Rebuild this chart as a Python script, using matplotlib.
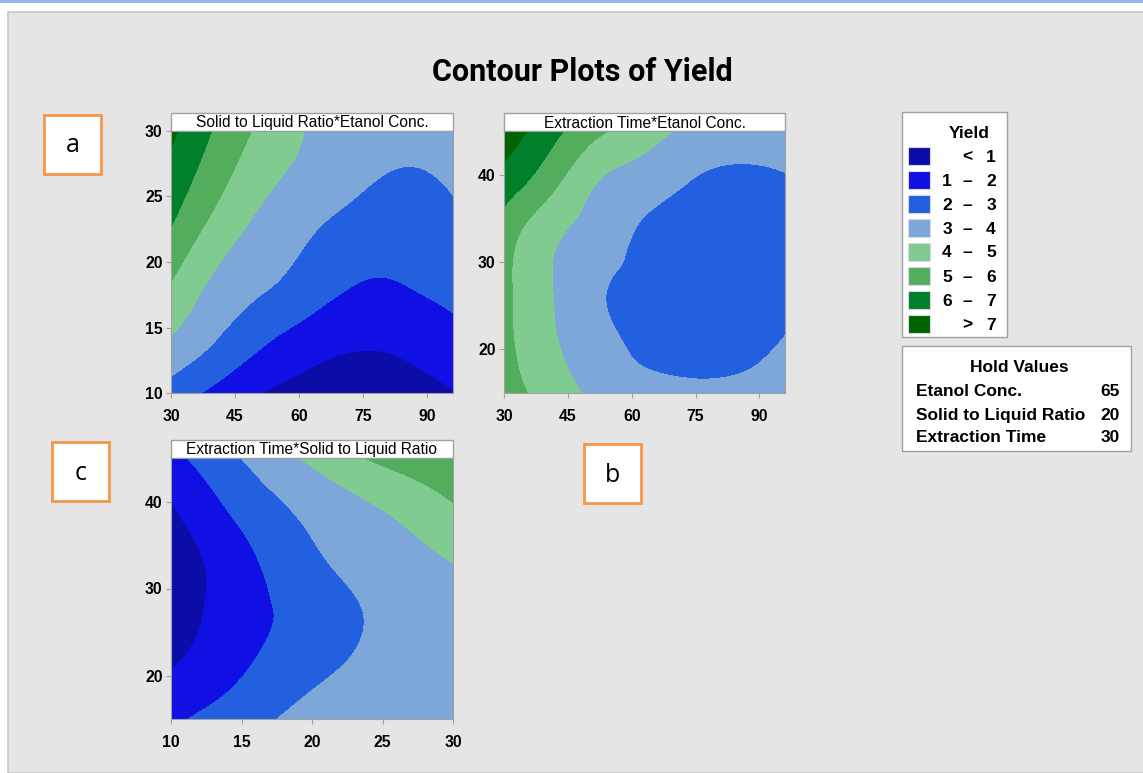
import numpy as np
import matplotlib
matplotlib.use("Agg")
import matplotlib.pyplot as plt
from matplotlib.patches import Rectangle
from matplotlib.lines import Line2D
from matplotlib.tri import Triangulation, UniformTriRefiner

# yield values (rows = y values, cols = x values)
etanol = [30, 41, 52, 63, 74, 85, 96]
ratio = [10, 14, 18, 22, 26, 30]
yield_a = [
    [2.5, 1.7, 0.95, 0.62, 0.5, 0.6, 0.95],
    [3.9, 2.95, 2.1, 1.46, 1.15, 1.27, 1.67],
    [4.88, 3.69, 3.05, 2.44, 1.93, 1.97, 2.24],
    [5.85, 4.46, 3.6, 3.0, 2.51, 2.42, 2.67],
    [6.6, 5.24, 4.18, 3.6, 3.13, 2.83, 3.1],
    [7.2, 5.82, 4.71, 3.9, 3.55, 3.35, 3.5],
]

time_b = [15, 21, 27, 33, 39, 45]
yield_b = [
    [5.4, 4.58, 3.75, 3.4, 3.25, 3.25, 3.4],
    [5.25, 4.15, 3.33, 2.75, 2.5, 2.6, 3.05],
    [5.2, 4.05, 3.12, 2.7, 2.35, 2.25, 2.5],
    [5.45, 4.2, 3.5, 2.82, 2.45, 2.3, 2.45],
    [6.55, 5.27, 3.98, 3.48, 2.95, 2.75, 2.9],
    [7.6, 6.35, 5.2, 4.38, 3.8, 3.45, 3.35],
]

ratio_c = [10, 13, 16, 20, 24, 27, 30]
time_c = [15, 21, 27, 33, 39, 45]
yield_c = [
    [1.8, 2.29, 2.76, 3.3, 3.45, 3.58, 3.7],
    [0.97, 1.46, 2.08, 2.75, 3.2, 3.45, 3.65],
    [0.55, 1.15, 1.77, 2.45, 3.05, 3.4, 3.65],
    [0.55, 1.15, 1.93, 2.82, 3.35, 3.7, 4.0],
    [0.88, 1.72, 2.5, 3.25, 3.85, 4.3, 4.85],
    [1.7, 2.5, 3.25, 4.2, 5.05, 5.5, 5.95],
]

levels = [-50, 1, 2, 3, 4, 5, 6, 7, 50]
level_labels = [("", "<", "1"), ("1", "\u2013", "2"), ("2", "\u2013", "3"), ("3", "\u2013", "4"),
                ("4", "\u2013", "5"), ("5", "\u2013", "6"), ("6", "\u2013", "7"), ("", ">", "7")]
colors = ["#0C0CA8", "#1010E4", "#2360E0", "#7CA7D8", "#80CC90", "#52AE5C", "#00802A", "#006400"]

hold_names = ["Etanol Conc.", "Solid to Liquid Ratio", "Extraction Time"]
hold_vals = ["65", "20", "30"]

W, H = 1143, 773
fig = plt.figure(figsize=(W / 100, H / 100), dpi=100)
fig.patch.set_facecolor("white")

def fx(px):
    return px / W

def fy(py):
    return 1 - py / H

# grey background panel and top blue line
fig.patches.append(Rectangle((fx(8), 0), 1, fy(12), transform=fig.transFigure,
                             fc="#E5E5E5", ec="#C8C8C8", lw=1.2, zorder=-5))
fig.lines.append(Line2D([0, 1], [fy(1), fy(1)], transform=fig.transFigure,
                        color="#8DB4E2", lw=2, zorder=-4))

tick_font = dict(family=["Liberation Sans", "DejaVu Sans"], weight="bold", size=11.3)
edge = "#A0A0A0"


def panel(rect, xs, ys, z, xlim, ylim, xticks, yticks, title):
    ax = fig.add_axes(rect)
    ax.set_zorder(2)
    X, Y = np.meshgrid(xs, ys)
    tri = Triangulation(X.ravel(), Y.ravel())
    refiner = UniformTriRefiner(tri)
    tri_f, z_f = refiner.refine_field(np.asarray(z, dtype=float).ravel(), subdiv=4)
    ax.tricontourf(tri_f, z_f, levels=levels, colors=colors, zorder=3)
    ax.set_xlim(xlim)
    ax.set_ylim(ylim)
    ax.set_xticks(xticks)
    ax.set_yticks(yticks)
    ax.set_xticklabels([str(t) for t in xticks], fontdict=tick_font)
    ax.set_yticklabels([str(t) for t in yticks], fontdict=tick_font)
    ax.tick_params(direction="out", length=3.5, color=edge)
    ax.tick_params(axis="x", pad=8)
    ax.tick_params(axis="y", pad=2.5)
    for s in ax.spines.values():
        s.set_color(edge)
        s.set_zorder(4)
    h = 18 / (rect[3] * H)
    ax.add_patch(Rectangle((0, 1), 1, h, transform=ax.transAxes, clip_on=False,
                           fc="white", ec=edge, lw=1, zorder=1))
    ax.text(0.5, 1.0 + 3.5 / (rect[3] * H), title, transform=ax.transAxes, ha="center",
            va="baseline", fontsize=11.2, family=["Liberation Sans", "DejaVu Sans"],
            clip_on=False, zorder=2)
    return ax


panel([fx(171), fy(393), fx(282), 262 / H], etanol, ratio, yield_a,
      (30, 96), (10, 30), [30, 45, 60, 75, 90], [10, 15, 20, 25, 30],
      "Solid to Liquid Ratio*Etanol Conc.")
panel([fx(504), fy(393), fx(281), 262 / H], etanol, time_b, yield_b,
      (30, 96), (15, 45), [30, 45, 60, 75, 90], [20, 30, 40],
      "Extraction Time*Etanol Conc.")
panel([fx(171), fy(719), fx(282), 261 / H], ratio_c, time_c, yield_c,
      (10, 30), (15, 45), [10, 15, 20, 25, 30], [20, 30, 40],
      "Extraction Time*Solid to Liquid Ratio")

fig.text(fx(582), fy(72), "Contour Plots of Yield", ha="center", va="center",
         fontsize=22, weight="bold", stretch="condensed",
         family=["DejaVu Sans Condensed", "Liberation Sans Narrow", "Roboto", "DejaVu Sans"])

# legend box
fig.patches.append(Rectangle((fx(902), fy(337)), fx(105), 225 / H, transform=fig.transFigure,
                             fc="white", ec=edge, lw=1))
lab_font = dict(family=["Liberation Sans", "DejaVu Sans"], weight="bold", fontsize=12.5)
fig.text(fx(969), fy(133), "Yield", ha="center", va="center", **lab_font)
for i, (c, lab) in enumerate(zip(colors, level_labels)):
    yc = 156 + 24 * i
    fig.patches.append(Rectangle((fx(908), fy(yc + 9)), fx(22), 18 / H, transform=fig.transFigure,
                                 fc=c, ec="#D8D8E8", lw=0.8))
    fig.text(fx(947), fy(yc + 1), lab[0], ha="center", va="center", **lab_font)
    fig.text(fx(967), fy(yc + 1), lab[1], ha="center", va="center", **lab_font)
    fig.text(fx(991), fy(yc + 1), lab[2], ha="center", va="center", **lab_font)

# hold values box
fig.patches.append(Rectangle((fx(902), fy(451)), fx(229), 105 / H, transform=fig.transFigure,
                             fc="white", ec=edge, lw=1))
fig.text(fx(1019), fy(367), "Hold Values", ha="center", va="center", **lab_font)
for i, (n, v) in enumerate(zip(hold_names, hold_vals)):
    yc = 392 + 23 * i
    fig.text(fx(916), fy(yc), n, ha="left", va="center", **lab_font)
    fig.text(fx(1120), fy(yc), v, ha="right", va="center", **lab_font)

# panel labels
for lab, x0, y0 in [("a", 44, 115), ("c", 52, 442), ("b", 584, 444)]:
    fig.patches.append(Rectangle((fx(x0), fy(y0 + 59)), fx(57), 59 / H, transform=fig.transFigure,
                                 fc="white", ec="#F79646", lw=2))
    fig.text(fx(x0 + 28.5), fy(y0 + 31), lab, ha="center", va="center", fontsize=18,
             family=["Open Sans", "DejaVu Sans"])

fig.savefig("out.png", dpi=100)
